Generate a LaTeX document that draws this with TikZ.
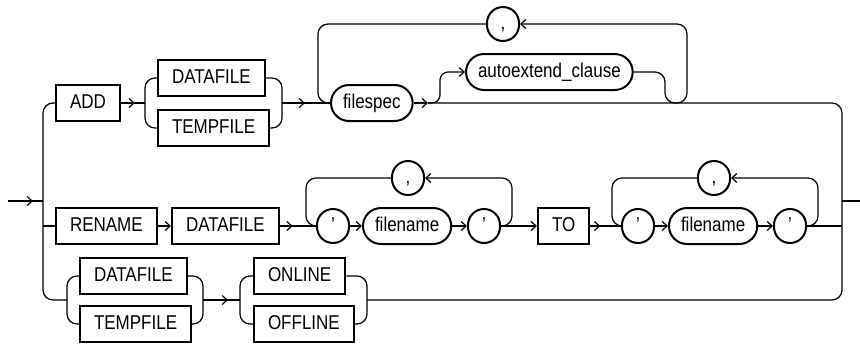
\documentclass[tikz,border=0pt]{standalone}
\usepackage{fontspec}
\setmainfont{Liberation Sans}[FakeStretch=0.85]
\usetikzlibrary{arrows.meta,decorations.markings}
\tikzset{
  rail/.style={line width=1.2pt},
  railtip/.style={rail,-{Straight Barb[length=5pt,width=9pt]}},
  tipat/.style={postaction={decorate},decoration={markings,
      mark=at position #1 with {\arrow{Straight Barb[length=5pt,width=9pt]}}}},
  kwbox/.style={draw,line width=2pt,minimum height=36pt,inner xsep=14pt,
      text height=14pt,text depth=4pt},
  refpill/.style={draw,line width=2pt,minimum height=36pt,inner xsep=12pt,
      rounded corners=18pt,text height=14pt,text depth=4pt},
  punct/.style={draw,line width=2pt,minimum width=32pt,minimum height=34pt,
      inner sep=0pt,rounded corners=16pt,text height=14pt,text depth=4pt}
}

\begin{document}
\begin{tikzpicture}[x=1pt,y=-1pt,font=\fontsize{20}{24}\selectfont]
\useasboundingbox (0,0) rectangle (860,346);

% entry and exit
\coordinate (start) at (8,201);
\coordinate (entry) at (43,201);
\coordinate (exit) at (842,201);
\coordinate (finish) at (860,201);

% ADD branch
\node[kwbox,anchor=west] (add) at (55,103) {ADD};
\node[kwbox,anchor=west] (adddf) at (157,78) {DATAFILE};
\node[kwbox,anchor=west] (addtf) at (157,128) {TEMPFILE};
\coordinate (addl) at (145,103);
\coordinate (addr) at (282,103);
\node[refpill,anchor=west] (fspec) at (330,103) {filespec};
\coordinate (fspecout) at (428,103);
\node[refpill,anchor=west] (autoext) at (465,72) {autoextend\_clause};
\node[punct] (fcomma) at (503,24) {,};

% RENAME branch
\node[kwbox,anchor=west] (ren) at (55,226) {RENAME};
\node[kwbox,anchor=west] (rendf) at (171,226) {DATAFILE};
\node[punct] (oq1) at (333,226) {'};
\node[refpill,anchor=west] (oname) at (362,226) {filename};
\node[punct] (oq2) at (484,226) {'};
\node[punct] (ocomma) at (408,178) {,};
\node[kwbox,anchor=west] (to) at (537,226) {TO};
\node[punct] (nq1) at (638,226) {'};
\node[refpill,anchor=west] (nname) at (668,226) {filename};
\node[punct] (nq2) at (790,226) {'};
\node[punct] (ncomma) at (714,178) {,};

% ONLINE / OFFLINE branch
\node[kwbox,anchor=west] (stdf) at (79,276) {DATAFILE};
\node[kwbox,anchor=west] (sttf) at (79,324) {TEMPFILE};
\node[kwbox,anchor=west] (online) at (253,276) {ONLINE};
\node[kwbox,anchor=west] (offline) at (253,324) {OFFLINE};
\coordinate (stl) at (67,300);
\coordinate (str) at (203,300);
\coordinate (onl) at (240,300);
\coordinate (onr) at (367,300);

% main rails
\draw[rail,tipat=25pt] (start) -- (entry);
\draw[rail] (exit) -- (finish);
\draw[rail,rounded corners=10pt] (add.west) -- (43,103) -- (43,300) -- (stl);
\draw[rail,rounded corners=10pt] (fspecout) -- (842,103) -- (842,300) -- (onr);

% ADD
\draw[rail,tipat=14pt] (add.east) -- (addl);
\draw[rail,rounded corners=10pt] (adddf.west) -| (addl) |- (addtf.west);
\draw[rail,rounded corners=10pt] (adddf.east) -| (addr) |- (addtf.east);
\draw[rail,tipat=23pt] (addr) -- (fspec.west);
\draw[railtip] (fspec.east) -- (fspecout);
\draw[rail,rounded corners=10pt] (fspec.west) -| (318,24) -- (fcomma.west);
\draw[railtip,rounded corners=8pt] (fspecout) -- ++(12,0) |- (autoext.west);
\draw[railtip,rounded corners=10pt] (autoext.east) -- (665,72) -- (665,103)
  -- (687,103) -- (687,24) -- (fcomma.east);

% RENAME
\draw[rail] (entry |- ren) -- (ren.west);
\draw[railtip] (ren) -- (rendf);
\draw[rail,tipat=13pt] (rendf.east) -- (oq1.west);
\draw[railtip] (oq1) -- (oname);
\draw[railtip] (oname) -- (oq2);
\draw[rail,rounded corners=10pt] (oq1.west) -| (306,178) -- (ocomma.west);
\draw[railtip,rounded corners=10pt] (oq2.east) -| (512,178) -- (ocomma.east);
\draw[railtip] (oq2) -- (to);
\draw[rail,tipat=10pt] (to.east) -- (nq1.west);
\draw[railtip] (nq1) -- (nname);
\draw[railtip] (nname) -- (nq2);
\draw[rail,rounded corners=10pt] (nq1.west) -| (612,178) -- (ncomma.west);
\draw[railtip,rounded corners=10pt] (nq2.east) -| (818,178) -- (ncomma.east);
\draw[rail] (nq2.east) -- (nq2 -| exit);

% ONLINE / OFFLINE
\draw[rail,rounded corners=10pt] (stdf.west) -| (stl) |- (sttf.west);
\draw[rail,rounded corners=10pt] (stdf.east) -| (str) |- (sttf.east);
\draw[rail,tipat=25pt] (str) -- (onl);
\draw[rail,rounded corners=10pt] (online.west) -| (onl) |- (offline.west);
\draw[rail,rounded corners=10pt] (online.east) -| (onr) |- (offline.east);
\end{tikzpicture}
\end{document}
